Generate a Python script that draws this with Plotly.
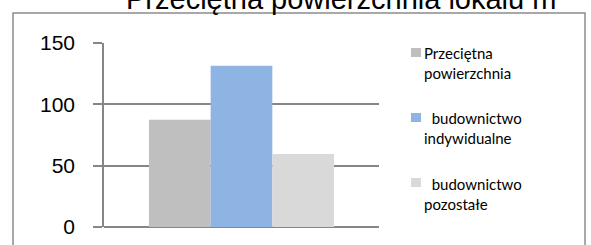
import plotly.graph_objects as go

title = "Przeciętna powierzchnia lokalu m"
series_names = ["Przeciętna powierzchnia", "budownictwo indywidualne", "budownictwo pozostałe"]
legend_lines = [["Przeciętna", "powierzchnia"], ["\u00a0\u00a0budownictwo", "indywidualne"], ["\u00a0\u00a0budownictwo", "pozostałe"]]
values = [87.5, 131.5, 59.5]
colors = ["#BFBFBF", "#8EB4E3", "#D9D9D9"]
category = [""]
y_ticks = [0, 50, 100, 150]

W, H = 591, 245
L, R, T, B = 104, 379, 43, 227

def px(x):
    return (x - L) / (R - L)

def py(y):
    return (B - y) / (B - T)

fig = go.Figure()
for name, v, c in zip(series_names, values, colors):
    fig.add_trace(go.Bar(x=category, y=[v], name=name, marker=dict(color=c, line=dict(width=0)),
                         showlegend=False, hoverinfo="skip"))

grid = "#868686"
fig.update_layout(
    width=W, height=H,
    margin=dict(l=L, r=W - R, t=T, b=H - B, pad=0, autoexpand=False),
    paper_bgcolor="white", plot_bgcolor="white",
    barmode="group", bargap=0.327, bargroupgap=0,
    font=dict(family="Liberation Sans", color="black"),
    xaxis=dict(showticklabels=False, showgrid=False, zeroline=False, showline=False, ticks="",
               automargin=False, fixedrange=True),
    yaxis=dict(range=[0, 150], tickvals=y_ticks, showgrid=True, gridcolor=grid, gridwidth=1.5,
               zeroline=True, zerolinecolor=grid, zerolinewidth=1.5,
               showline=True, linecolor=grid, linewidth=1.5,
               ticks="outside", ticklen=9, tickcolor=grid, tickwidth=1.5, automargin=False,
               fixedrange=True,
               ticklabelstandoff=14, tickfont=dict(size=21, family="Liberation Sans")),
)

shapes = [dict(type="rect", xref="paper", yref="paper", x0=px(13), x1=px(585), y0=py(13), y1=py(260),
               line=dict(color="#8C8C8C", width=1.5), fillcolor="rgba(0,0,0,0)", layer="below")]
annotations = [dict(text=title, xref="paper", yref="paper", x=px(341), y=py(17), xanchor="center",
                    yanchor="bottom", showarrow=False, font=dict(size=29, family="Liberation Sans"))]

marker_tops = [48, 113, 178]
text_tops = [42, 107, 173]
for lines, c, mt, tt in zip(legend_lines, colors, marker_tops, text_tops):
    shapes.append(dict(type="rect", xref="paper", yref="paper", x0=px(411), x1=px(421), y0=py(mt), y1=py(mt + 9),
                       line=dict(width=0), fillcolor=c))
    annotations.append(dict(text="<br>".join(lines), xref="paper", yref="paper", x=px(422), y=py(tt),
                            xanchor="left", yanchor="top", align="left", showarrow=False,
                            font=dict(size=15, family="Lato")))

fig.update_layout(shapes=shapes, annotations=annotations)
fig.write_html("out.html", config={"displayModeBar": False},
               post_script="document.body.style.margin='0';")
